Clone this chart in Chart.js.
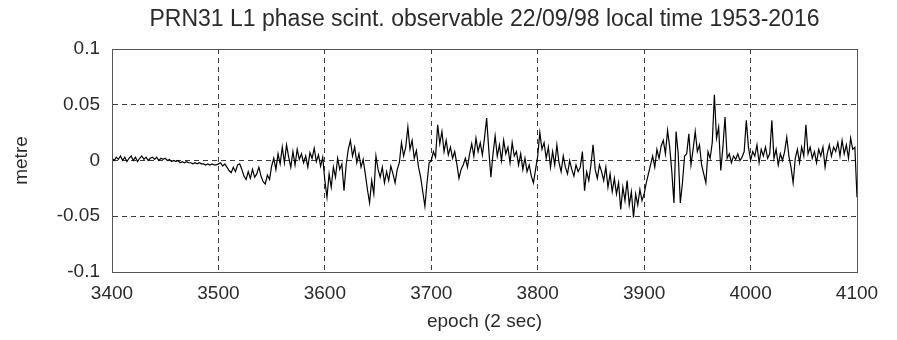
<!DOCTYPE html>
<html>
<head>
<meta charset="utf-8">
<script src="https://cdn.jsdelivr.net/npm/chart.js@4/dist/chart.umd.min.js"></script>
<style>
  html, body { margin: 0; padding: 0; background: #ffffff; }
  #wrap { width: 897px; height: 340px; }
</style>
</head>
<body>
<div id="wrap"><canvas id="c" width="897" height="340"></canvas></div>
<script>
// ---- data ----
const titleText = 'PRN31 L1 phase scint. observable 22/09/98 local time 1953-2016';
const xAxisTitle = 'epoch (2 sec)';
const yAxisTitle = 'metre';
const xTickLabels = ['3400', '3500', '3600', '3700', '3800', '3900', '4000', '4100'];
const yTickLabels = ['-0.1', '-0.05', '0', '0.05', '0.1'];
const epochStart = 3400;
const epochStep = 2;
// phase scintillation observable (metre), one value every 2 epochs from 3400 to 4100
const phaseL1 = [
  0.002, 0.000, 0.003, 0.001, 0.004, 0.000, 0.003, -0.001, 0.002, 0.004,
  0.000, 0.003, -0.001, 0.002, 0.004, 0.001, 0.003, 0.000, 0.002, 0.003,
  0.001, 0.003, 0.000, 0.002, 0.001, 0.002, 0.000, 0.001, -0.001, 0.000,
  -0.001, 0.000, -0.002, -0.001, -0.002, -0.001, -0.002, -0.002, -0.003, -0.002,
  -0.003, -0.002, -0.003, -0.003, -0.004, -0.003, -0.004, -0.003, -0.004, -0.004,
  -0.003, -0.002, -0.005, -0.003, -0.006, -0.009, -0.011, -0.006, -0.010, -0.004,
  -0.003, -0.008, -0.014, -0.017, -0.010, -0.016, -0.008, -0.015, -0.012, -0.006,
  -0.014, -0.019, -0.021, -0.013, -0.017, -0.005, 0.002, -0.008, 0.006, -0.003,
  0.012, -0.002, 0.014, 0.003, -0.006, 0.008, -0.004, 0.010, 0.001, 0.006,
  -0.002, 0.004, -0.006, 0.007, 0.002, 0.011, -0.001, 0.005, -0.005, 0.003,
  -0.018, -0.033, -0.012, -0.024, -0.006, -0.015, 0.002, -0.008, -0.003, -0.027,
  -0.004, 0.010, 0.018, 0.004, 0.012, -0.002, 0.006, -0.006, 0.001, -0.012,
  -0.026, -0.038, -0.018, -0.030, 0.004, -0.008, -0.015, -0.006, -0.020, -0.010,
  -0.018, -0.005, -0.012, -0.020, -0.008, -0.002, 0.016, 0.004, 0.012, 0.030,
  0.010, 0.018, 0.002, 0.009, -0.006, -0.015, -0.028, -0.041, -0.020, -0.002,
  0.000, 0.008, 0.003, 0.032, 0.015, 0.026, 0.008, 0.018, 0.005, 0.012,
  0.002, 0.008, -0.003, -0.016, -0.008, -0.004, 0.002, -0.006, 0.006, 0.015,
  0.004, 0.020, 0.008, 0.016, 0.005, 0.020, 0.038, 0.010, -0.015, 0.006,
  0.022, 0.004, 0.014, 0.000, 0.018, 0.006, 0.012, -0.002, 0.016, 0.004,
  0.008, -0.004, 0.006, -0.008, 0.002, -0.010, -0.004, -0.014, -0.020, -0.008,
  0.004, 0.025, 0.010, 0.016, 0.002, 0.012, -0.006, 0.008, -0.004, 0.014,
  -0.002, -0.010, 0.004, -0.006, -0.012, 0.000, -0.008, -0.014, -0.004, -0.010,
  -0.006, 0.008, -0.027, -0.010, -0.018, -0.004, 0.014, -0.008, -0.016, -0.004,
  -0.010, -0.018, -0.006, -0.024, -0.012, -0.028, -0.016, -0.030, -0.020, -0.044,
  -0.024, -0.036, -0.018, -0.040, -0.028, -0.051, -0.030, -0.040, -0.026, -0.036,
  -0.030, -0.020, -0.012, -0.004, 0.004, -0.006, 0.010, 0.002, 0.013, 0.018,
  0.006, 0.027, 0.012, -0.010, -0.038, 0.026, 0.006, -0.038, -0.020, 0.004,
  0.006, 0.024, -0.004, 0.010, 0.026, 0.008, 0.014, -0.004, -0.012, -0.020,
  0.008, 0.002, 0.016, 0.059, 0.020, 0.030, -0.009, 0.012, 0.039, 0.002,
  0.006, -0.002, 0.004, 0.001, 0.006, 0.000, 0.003, 0.008, 0.036, 0.012,
  0.000, 0.008, 0.004, 0.014, -0.002, 0.010, 0.004, 0.012, 0.002, 0.006,
  0.036, 0.002, 0.010, -0.004, 0.006, 0.000, 0.008, 0.021, 0.004, -0.006,
  -0.020, 0.002, 0.010, -0.002, 0.012, 0.004, 0.032, 0.006, 0.012, 0.002,
  0.008, -0.002, 0.010, 0.004, 0.012, -0.006, 0.006, 0.014, 0.004, 0.012,
  0.008, 0.016, 0.004, 0.018, 0.006, 0.014, 0.002, 0.020, 0.010, 0.012,
  -0.033
];
const epochs = phaseL1.map((_, i) => epochStart + i * epochStep);

// ---- chart ----
const FONT = '"Liberation Sans", Arial, Helvetica, sans-serif';
const TEXT = '#2a2a2a';

const boxPlugin = {
  id: 'axesBox',
  afterDraw(chart) {
    const { ctx, chartArea: a } = chart;
    ctx.save();
    ctx.strokeStyle = '#555555';
    ctx.lineWidth = 1;
    ctx.setLineDash([]);
    ctx.strokeRect(Math.round(a.left) + 0.5, Math.round(a.top) + 0.5,
      Math.round(a.right - a.left), Math.round(a.bottom - a.top));
    ctx.restore();
  }
};

new Chart(document.getElementById('c'), {
  type: 'line',
  data: {
    datasets: [{
      data: epochs.map((e, i) => ({ x: e, y: phaseL1[i] })),
      borderColor: '#000000',
      borderWidth: 1.2,
      pointRadius: 0,
      tension: 0,
      fill: false
    }]
  },
  options: {
    responsive: false,
    animation: false,
    devicePixelRatio: 1,
    layout: { padding: { left: 0, right: 40, top: 0, bottom: 0 } },
    plugins: {
      legend: { display: false },
      tooltip: { enabled: false },
      title: {
        display: true,
        text: titleText,
        fullSize: false,
        color: TEXT,
        font: { family: FONT, size: 23, weight: 'normal', lineHeight: 1.2 },
        padding: { top: 6, bottom: 15.4 }
      }
    },
    scales: {
      x: {
        type: 'linear',
        min: 3400,
        max: 4100,
        afterFit(scale) { scale.height = 68; },
        afterBuildTicks(scale) {
          scale.ticks = xTickLabels.map(v => ({ value: Number(v) }));
        },
        ticks: {
          color: TEXT,
          font: { family: FONT, size: 19 },
          padding: 10,
          maxRotation: 0,
          callback: (v, i) => xTickLabels[i]
        },
        grid: { color: '#3a3a3a', lineWidth: 1, drawTicks: false },
        border: { display: true, color: '#555555', width: 1, dash: [5, 4] },
        title: {
          display: true,
          text: xAxisTitle,
          color: TEXT,
          font: { family: FONT, size: 19, lineHeight: 1.2 },
          padding: { top: 0, bottom: 7 }
        }
      },
      y: {
        type: 'linear',
        min: -0.1,
        max: 0.1,
        afterFit(scale) { scale.width = 112; },
        afterBuildTicks(scale) {
          scale.ticks = yTickLabels.map(v => ({ value: Number(v) }));
        },
        ticks: {
          color: TEXT,
          font: { family: FONT, size: 19 },
          padding: 12,
          callback: (v, i) => yTickLabels[i]
        },
        grid: { color: '#3a3a3a', lineWidth: 1, drawTicks: false },
        border: { display: true, color: '#555555', width: 1, dash: [5, 4] },
        title: {
          display: true,
          text: yAxisTitle,
          color: TEXT,
          font: { family: FONT, size: 19, lineHeight: 1.2 },
          padding: { top: 10, bottom: 0 }
        }
      }
    }
  },
  plugins: [boxPlugin]
});
</script>
</body>
</html>
